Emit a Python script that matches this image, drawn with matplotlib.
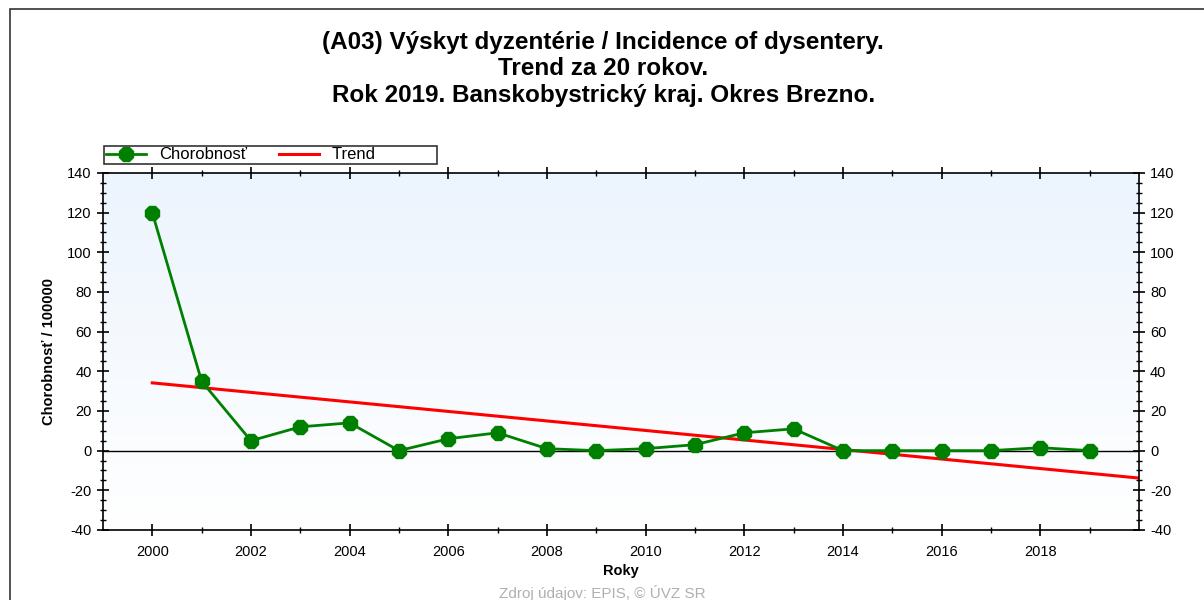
import matplotlib
matplotlib.use("Agg")
import matplotlib.pyplot as plt
import numpy as np
from matplotlib.ticker import MultipleLocator, FixedLocator
from matplotlib.patches import Rectangle

plt.rcParams['font.family'] = ['Liberation Sans', 'DejaVu Sans']
plt.rcParams['axes.unicode_minus'] = False

# incidence per 100000
years = [2000, 2001, 2002, 2003, 2004, 2005, 2006, 2007, 2008, 2009,
         2010, 2011, 2012, 2013, 2014, 2015, 2016, 2017, 2018, 2019]
rate = [120, 35, 5, 12, 14, 0, 6, 9, 1, 0,
        1, 3, 9, 11, 0, 0, 0, 0, 1.5, 0]
year_labels = [2000, 2002, 2004, 2006, 2008, 2010, 2012, 2014, 2016, 2018]

title = ("(A03) Výskyt dyzentérie / Incidence of dysentery.\n"
         "Trend za 20 rokov.\n"
         "Rok 2019. Banskobystrický kraj. Okres Brezno.")

# linear trend over the data, drawn from 2000 to 2020
k, q = np.polyfit(years, rate, 1)
trend_x = np.array([2000, 2020])
trend_y = k * trend_x + q

fig = plt.figure(figsize=(12.04, 6.0), dpi=100)
ax = fig.add_axes([0.0855, 0.1167, 0.8605, 0.595])

# outer frame of the picture
fig.patches.append(Rectangle((10 / 1204, -0.05), 1.1, 1.05 - 9 / 600,
                             transform=fig.transFigure, fill=False,
                             edgecolor='#333333', linewidth=1.2))

# light blue gradient background
grad = np.linspace(1, 0, 256).reshape(-1, 1)
cmap = matplotlib.colors.LinearSegmentedColormap.from_list(
    'bg', ['#ffffff', '#ecf4fd'])
ax.imshow(grad, cmap=cmap, aspect='auto', extent=[1999, 2020, -40, 140],
          origin='upper', zorder=0)

ax.axhline(0, color='black', linewidth=1, zorder=1)
tr, = ax.plot(trend_x, trend_y, color='red', linewidth=2.2,
              label='Trend' + ' ' * 13, zorder=2)
ch, = ax.plot(years, rate, color='green', linewidth=2, marker='8',
              markersize=11, label='Chorobnosť', zorder=3)

ax.set_xlim(1999, 2020)
ax.set_ylim(-40, 140)
ax.xaxis.set_major_locator(FixedLocator(year_labels))
ax.xaxis.set_minor_locator(FixedLocator(years))
ax.yaxis.set_major_locator(MultipleLocator(20))
ax.yaxis.set_minor_locator(MultipleLocator(5))
ax.tick_params(which='major', direction='inout', length=9, width=1.2,
               labelsize=10.5, top=True, right=True, labelright=True,
               colors='black')
ax.tick_params(which='minor', direction='inout', length=5, width=1,
               top=True, right=True)
ax.tick_params(axis='x', pad=6)
for s in ax.spines.values():
    s.set_linewidth(1.2)

ax.set_xlabel('Roky', fontsize=10.5, fontweight='bold', labelpad=4)
ax.set_ylabel('Chorobnosť / 100000', fontsize=10.5, fontweight='bold',
              labelpad=8)

fig.text(0.501, 0.948, title, ha='center', va='top', fontsize=17.5,
         fontweight='bold', linespacing=1.18)

leg = ax.legend(handles=[ch, tr], loc='lower left',
                bbox_to_anchor=(0.0015, 1.025), ncol=2,
                frameon=True, fancybox=False, fontsize=12,
                borderpad=0.1, handlelength=2.4, columnspacing=1.9,
                handletextpad=0.8, borderaxespad=0)
leg.get_frame().set_edgecolor('black')
leg.get_frame().set_linewidth(1.2)

fig.text(0.5, 0.012, 'Zdroj údajov: EPIS, © ÚVZ SR', ha='center',
         va='center', fontsize=11, color='#b0b0b0')

fig.savefig('out.png', dpi=100)
